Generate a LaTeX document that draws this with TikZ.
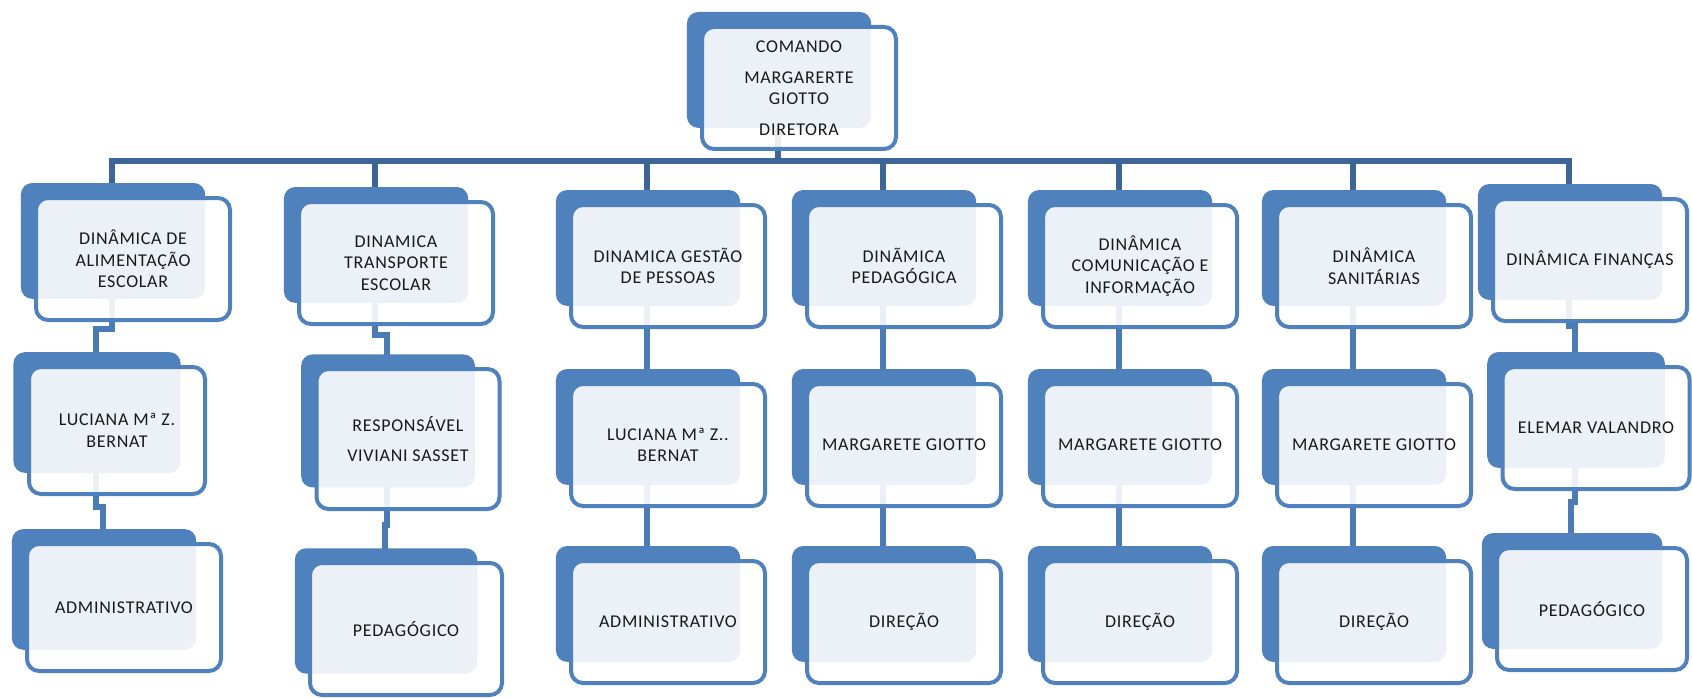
\documentclass[tikz,border=0pt]{standalone}
\usepackage{fontspec}
\setmainfont{Carlito}[LetterSpace=4.0]
\usetikzlibrary{positioning,shadows,backgrounds}

\definecolor{boxblue}{HTML}{4F81BD}
\definecolor{busblue}{HTML}{3D6595}
\definecolor{linkblue}{HTML}{4A7BB5}

\begin{document}
\begin{tikzpicture}[
        x=1pt, y=-1pt,
        every node/.style={font=\fontsize{18}{21.5}\selectfont, text=black!90},
        unit/.style={rectangle, rounded corners=12pt, draw=boxblue, line width=4pt,
        fill=white, fill opacity=0.89, text opacity=1,
        minimum width=194pt, minimum height=122pt, inner sep=2pt, align=center,
        copy shadow={fill=boxblue, draw=none, opacity=1, shadow scale=0.95,
        shadow xshift=-21pt, shadow yshift=19pt}},
        bus/.style={busblue, line width=6pt},
        link/.style={linkblue, line width=6pt}
    ]
\useasboundingbox (0,0) rectangle (1692,698);

% Top unit
        \node[unit] (chief) at (799,88) {COMANDO\\[9pt]MARGARERTE\\GIOTTO\\[9pt]DIRETORA};

% First level
        \node[unit] (alim) at (133,259) {DINÂMICA DE\\ALIMENTAÇÃO\\ESCOLAR};
        \node[unit] (transp) at (396,263) {DINAMICA\\TRANSPORTE\\ESCOLAR};
        \node[unit] (gest) at (668,266) {DINAMICA GESTÃO\\DE PESSOAS};
        \node[unit] (pedag) at (904,266) {DINÃMICA\\PEDAGÓGICA};
        \node[unit] (comun) at (1140,266) {DINÂMICA\\COMUNICAÇÃO E\\INFORMAÇÃO};
        \node[unit] (sanit) at (1374,266) {DINÂMICA\\SANITÁRIAS};
        \node[unit] (finan) at (1590,260) {DINÂMICA FINANÇAS};

% Responsible persons
        \node[unit, minimum width=176pt, minimum height=127pt, below=43pt of alim, xshift=-16pt] (alim2) {LUCIANA Mª Z.\\BERNAT};
        \node[unit, minimum width=183pt, minimum height=140pt, below=41pt of transp, xshift=12pt] (transp2) {RESPONSÁVEL\\[9pt]VIVIANI SASSET};
        \node[unit, below=53pt of gest] (gest2) {LUCIANA Mª Z..\\BERNAT};
        \node[unit, below=53pt of pedag] (pedag2) {MARGARETE GIOTTO};
        \node[unit, below=53pt of comun] (comun2) {MARGARETE GIOTTO};
        \node[unit, below=53pt of sanit] (sanit2) {MARGARETE GIOTTO};
        \node[unit, minimum width=187pt, below=42pt of finan, xshift=6pt] (finan2) {ELEMAR VALANDRO};

% Sectors
        \node[unit, minimum height=127pt, below=46pt of alim2, xshift=7pt] (alim3) {ADMINISTRATIVO};
        \node[unit, minimum width=192pt, minimum height=132pt, below=50pt of transp2, xshift=-2pt] (transp3) {PEDAGÓGICO};
        \node[unit, below=51pt of gest2] (gest3) {ADMINISTRATIVO};
        \node[unit, below=51pt of pedag2] (pedag3) {DIREÇÃO};
        \node[unit, below=51pt of comun2] (comun3) {DIREÇÃO};
        \node[unit, below=51pt of sanit2] (sanit3) {DIREÇÃO};
        \node[unit, minimum width=190pt, below=55pt of finan2, xshift=-4pt] (finan3) {PEDAGÓGICO};

% Connectors, behind the boxes
\begin{scope}[on background layer]
        \draw[bus] ([xshift=-21pt]chief.center) -- ++(0,73) -| ([xshift=-21pt]alim.center);
        \draw[bus] ([xshift=-21pt]chief.center) -- ++(0,73) -| ([xshift=-21pt]transp.center);
        \draw[bus] ([xshift=-21pt]chief.center) -- ++(0,73) -| ([xshift=-21pt]gest.center);
        \draw[bus] ([xshift=-21pt]chief.center) -- ++(0,73) -| ([xshift=-21pt]pedag.center);
        \draw[bus] ([xshift=-21pt]chief.center) -- ++(0,73) -| ([xshift=-21pt]comun.center);
        \draw[bus] ([xshift=-21pt]chief.center) -- ++(0,73) -| ([xshift=-21pt]sanit.center);
        \draw[bus] ([xshift=-21pt]chief.center) -- ++(0,73) -| ([xshift=-21pt]finan.center);

        \draw[link] ([xshift=-21pt]alim.center) -- ++(0,70) -| ([xshift=-21pt]alim2.center);
        \draw[link] ([xshift=-21pt]alim2.center) -- ++(0,76) -| ([xshift=-21pt]alim3.center);
        \draw[link] ([xshift=-21pt]transp.center) -- ++(0,72) -| ([xshift=-21pt]transp2.center);
        \draw[link] ([xshift=-21pt]transp2.center) -- ++(0,86) -| ([xshift=-21pt]transp3.center);
        \draw[link] ([xshift=-21pt]gest.center) -- ([xshift=-21pt]gest2.center);
        \draw[link] ([xshift=-21pt]gest2.center) -- ([xshift=-21pt]gest3.center);
        \draw[link] ([xshift=-21pt]pedag.center) -- ([xshift=-21pt]pedag2.center);
        \draw[link] ([xshift=-21pt]pedag2.center) -- ([xshift=-21pt]pedag3.center);
        \draw[link] ([xshift=-21pt]comun.center) -- ([xshift=-21pt]comun2.center);
        \draw[link] ([xshift=-21pt]comun2.center) -- ([xshift=-21pt]comun3.center);
        \draw[link] ([xshift=-21pt]sanit.center) -- ([xshift=-21pt]sanit2.center);
        \draw[link] ([xshift=-21pt]sanit2.center) -- ([xshift=-21pt]sanit3.center);
        \draw[link] ([xshift=-21pt]finan.center) -- ++(0,66) -| ([xshift=-21pt]finan2.center);
        \draw[link] ([xshift=-21pt]finan2.center) -- ++(0,74) -| ([xshift=-21pt]finan3.center);
\end{scope}

    \end{tikzpicture}
\end{document}
